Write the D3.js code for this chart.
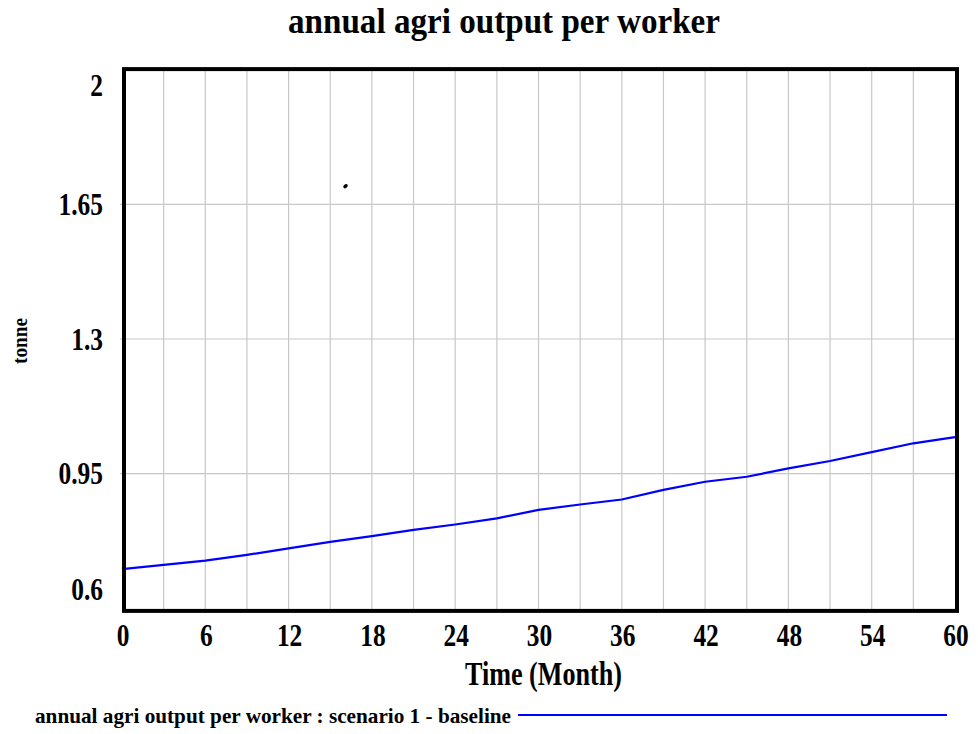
<!DOCTYPE html>
<html>
<head>
<meta charset="utf-8">
<script src="https://cdn.jsdelivr.net/npm/d3@7"></script>
<style>
  body { margin: 0; background: #fff; }
  text { font-family: "Liberation Serif", "Times New Roman", serif; font-weight: bold; fill: #000; }
</style>
</head>
<body>
<div id="chart"></div>
<script>
// values
var months = [0, 3, 6, 9, 12, 15, 18, 21, 24, 27, 30, 33, 36, 39, 42, 45, 48, 51, 54, 57, 60];
var output = [0.702, 0.713, 0.724, 0.739, 0.756, 0.773, 0.788, 0.804, 0.818, 0.834, 0.856,
              0.870, 0.883, 0.908, 0.929, 0.942, 0.964, 0.983, 1.006, 1.029, 1.045];
var xTicks = [0, 6, 12, 18, 24, 30, 36, 42, 48, 54, 60];
var xGrid = d3.range(3, 60, 3);
var yTicks = [0.6, 0.95, 1.3, 1.65, 2];
var yTickLabels = ["0.6", "0.95", "1.3", "1.65", "2"];
var strayDot = [16.1, 1.697];

window.onload = () => {
    var width = 978;
    var height = 734;

    var svg = d3.select("#chart")
        .append("svg")
        .attr("width", width)
        .attr("height", height);

    var x = d3.scaleLinear().domain([0, 60]).range([122, 955]);
    var y = d3.scaleLinear().domain([0.6, 2]).range([608.4, 69.6]);

    // grid
    svg.selectAll(".vgrid")
        .data(xGrid)
        .enter()
        .append("line")
        .attr("x1", d => x(d)).attr("x2", d => x(d))
        .attr("y1", y(2)).attr("y2", y(0.6) + 2)
        .attr("stroke", "#c8c8c8")
        .attr("stroke-width", 1.2);

    svg.selectAll(".hgrid")
        .data(yTicks.slice(1, 4))
        .enter()
        .append("line")
        .attr("x1", x(0) - 2).attr("x2", x(60))
        .attr("y1", d => y(d)).attr("y2", d => y(d))
        .attr("stroke", "#c8c8c8")
        .attr("stroke-width", 1.2);

    // series
    var line = d3.line()
        .x((d, i) => x(months[i]))
        .y(d => y(d));

    svg.append("path")
        .datum(output)
        .attr("d", line)
        .attr("fill", "none")
        .attr("stroke", "#0000ff")
        .attr("stroke-width", 2.2);

    svg.append("ellipse")
        .attr("cx", x(strayDot[0]))
        .attr("cy", y(strayDot[1]))
        .attr("rx", 2.5).attr("ry", 1.8)
        .attr("transform", "rotate(-40," + x(strayDot[0]) + "," + y(strayDot[1]) + ")")
        .attr("fill", "#000");

    // frame
    svg.append("rect")
        .attr("x", x(0) + 2)
        .attr("y", y(2) - 0.5)
        .attr("width", x(60) - x(0))
        .attr("height", y(0.6) - y(2) + 3)
        .attr("fill", "none")
        .attr("stroke", "#000")
        .attr("stroke-width", 4);

    // tick labels (narrow bold serif, end labels pulled inside)
    svg.selectAll(".ylab")
        .data(yTicks)
        .enter()
        .append("text")
        .attr("transform", d => {
            var by = Math.max(96, Math.min(600, y(d) + 10.5));
            return "translate(103," + by + ") scale(0.82,1)";
        })
        .attr("text-anchor", "end")
        .style("font-size", "31px")
        .text((d, i) => yTickLabels[i]);

    svg.selectAll(".xlab")
        .data(xTicks)
        .enter()
        .append("text")
        .attr("transform", d => "translate(" + (x(d) + 1) + ",646) scale(0.82,1)")
        .attr("text-anchor", "middle")
        .style("font-size", "31px")
        .text(d => d);

    svg.append("text")
        .attr("x", 288)
        .attr("y", 33)
        .attr("textLength", 432)
        .attr("lengthAdjust", "spacingAndGlyphs")
        .style("font-size", "36px")
        .text("annual agri output per worker");

    svg.append("text")
        .attr("x", 465)
        .attr("y", 685)
        .attr("textLength", 157)
        .attr("lengthAdjust", "spacingAndGlyphs")
        .style("font-size", "33px")
        .text("Time (Month)");

    svg.append("text")
        .attr("transform", "translate(27,364) rotate(-90)")
        .attr("textLength", 46)
        .attr("lengthAdjust", "spacingAndGlyphs")
        .style("font-size", "20px")
        .text("tonne");

    // legend
    svg.append("text")
        .attr("x", 35)
        .attr("y", 723)
        .attr("textLength", 476)
        .attr("lengthAdjust", "spacingAndGlyphs")
        .style("font-size", "21px")
        .text("annual agri output per worker : scenario 1 - baseline");

    svg.append("line")
        .attr("x1", 518).attr("x2", 947)
        .attr("y1", 715).attr("y2", 715)
        .attr("stroke", "#0000ff")
        .attr("stroke-width", 2);
};
</script>
</body>
</html>
